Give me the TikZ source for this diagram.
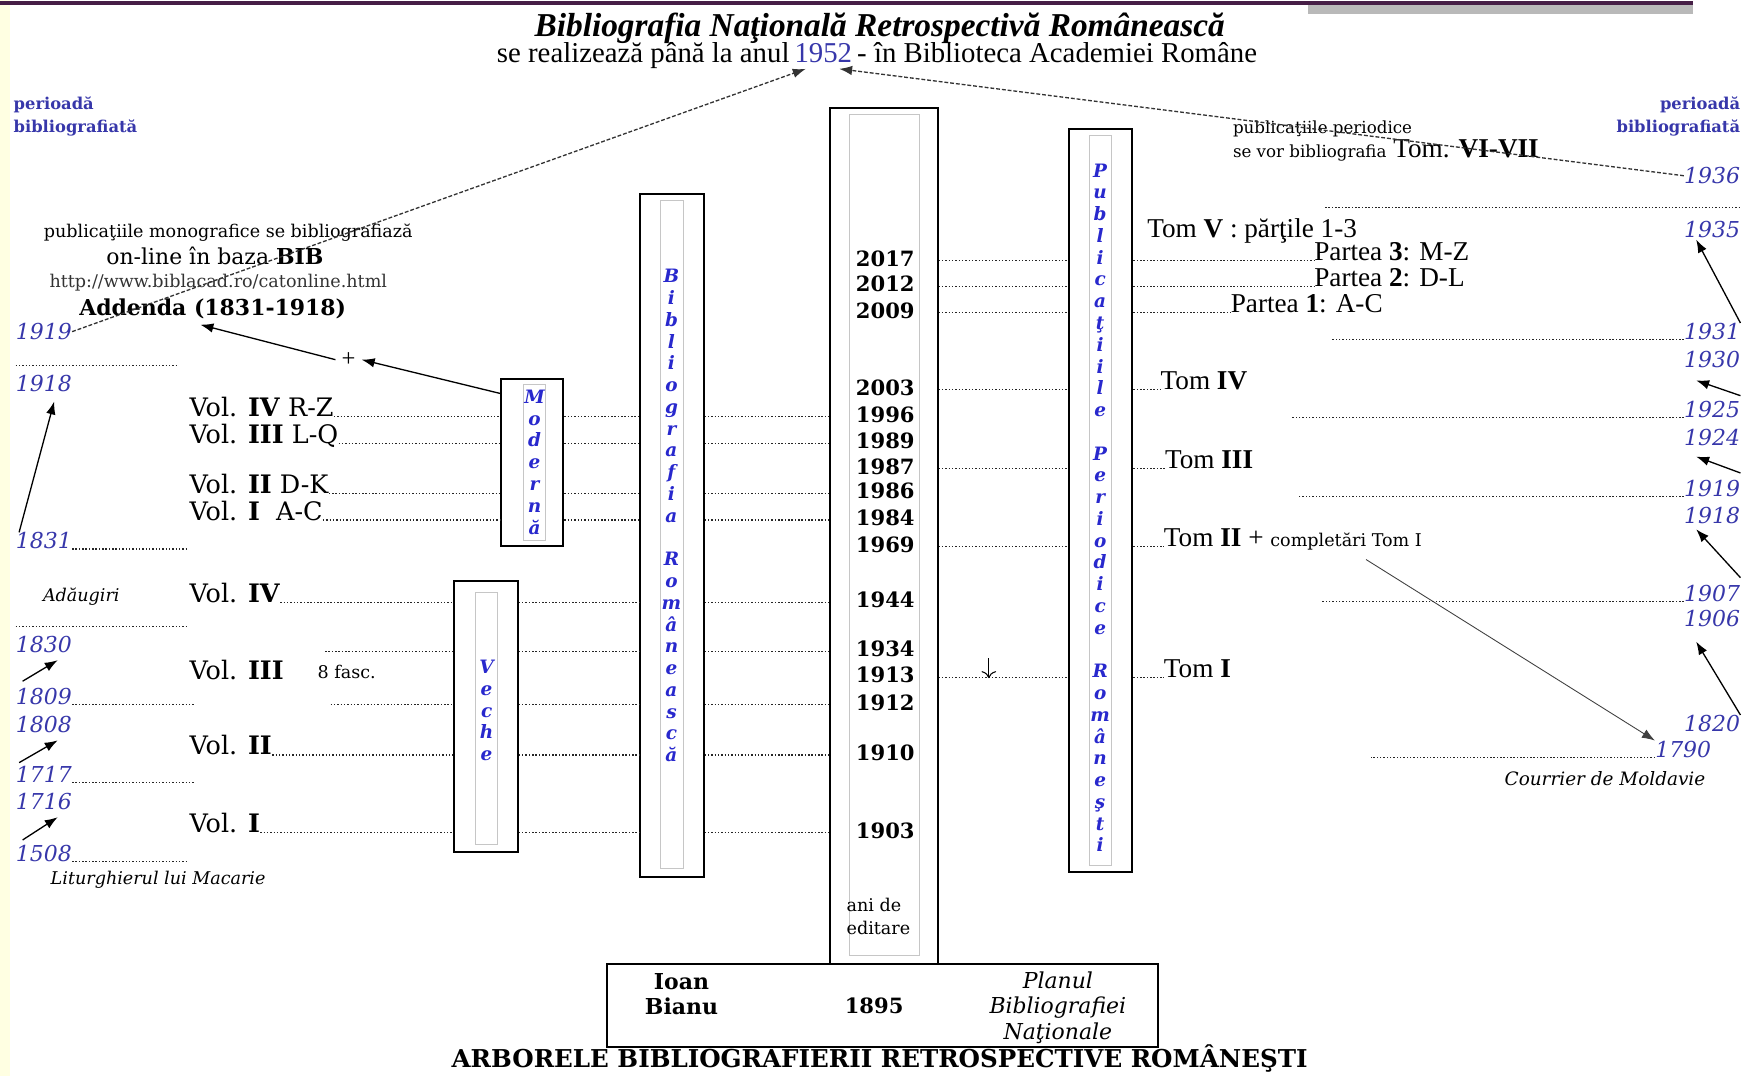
\documentclass[tikz,border=0pt]{standalone}
\usepackage{fontspec}
\setmainfont{Liberation Serif}
\newfontfamily\bookf{DejaVu Serif}
\usetikzlibrary{positioning, arrows.meta, fit}
\definecolor{yrblue}{RGB}{55,55,170}
\definecolor{letblue}{RGB}{40,40,205}
\definecolor{stripcol}{RGB}{255,255,226}
\definecolor{topbar}{RGB}{70,30,70}
\newcommand{\fsz}[2]{\fontsize{#1}{#2}\selectfont}
\tikzset{
  outerbox/.style = {draw, line width=1.1pt, inner sep=0pt},
  innerbox/.style = {draw=gray!45, line width=0.5pt, inner sep=0pt},
  vletters/.style = {font=\bookf\bfseries\itshape\fsz{10.5}{12.4}, text=letblue, align=center, inner sep=0pt},
  boxyear/.style  = {font=\bookf\bfseries\fsz{12}{14}, anchor=base, inner sep=0pt},
  sideyear/.style = {font=\bookf\itshape\fsz{12.5}{14}, text=yrblue, inner sep=0pt},
  lyear/.style    = {sideyear, anchor=base west},
  ryear/.style    = {sideyear, anchor=base east},
  vol/.style      = {font=\bookf\fsz{14.5}{16}, anchor=base west, inner sep=0pt},
  tom/.style      = {font=\fsz{15.5}{18}, anchor=base west, inner sep=0pt},
  dotrule/.style  = {draw=black!85, line width=0.6pt, dash pattern=on 0.8pt off 1.1pt},
  dashlink/.style = {draw=black!80, line width=0.75pt, dash pattern=on 2.2pt off 1.1pt, -{Latex[length=2.6mm,width=1.9mm]}},
  arr/.style      = {line width=0.75pt, -{Latex[length=2.6mm,width=1.9mm]}},
}

\begin{document}
\begin{tikzpicture}[x=0.0223cm, y=-0.0223cm]
  \useasboundingbox (0,0) rectangle (1568,966);
  % slide decoration
  \fill[stripcol] (0,0) rectangle (9,966);
  \fill[gray!55] (1175,4) rectangle (1520,13);
  \draw[topbar, line width=2.2pt] (0,3) -- (1520,3);

  % title
  \node[font=\bfseries\itshape\fsz{19}{22}] (title) at (790,25) {Bibliografia Naţională Retrospectivă Românească};
  \node[font=\fsz{16.4}{18}, anchor=base west, inner xsep=0.125em] (sub1)  at (444,56) {se realizează până la anul};
  \node[font=\fsz{16.4}{18}, anchor=base west, inner xsep=0.125em, text=yrblue] (n1952) at (sub1.base east) {1952};
  \node[font=\fsz{16.4}{18}, anchor=base west, inner xsep=0.125em] (sub3)  at (n1952.base east) {- în Biblioteca Academiei Române};

  \node[font=\bookf\bfseries\fsz{9.3}{12.7}, text=yrblue, align=left,  anchor=north west, inner sep=0pt] (perl) at (12,87)   {perioadă\\bibliografiată};
  \node[font=\bookf\bfseries\fsz{9.3}{12.7}, text=yrblue, align=right, anchor=north east, inner sep=0pt] (perr) at (1563,87) {perioadă\\bibliografiată};

  % left notes
  \node[font=\bookf\fsz{10}{12}]                (monog)   at (205,209) {publicaţiile monografice se bibliografiază};
  \node[font=\bookf\fsz{12.5}{14}]              (online)  at (193,230) {on-line în baza \textbf{BIB}};
  \node[font=\bookf\fsz{10}{12}, text=black!80] (http)    at (196,254) {http://www.biblacad.ro/catonline.html};
  \node[font=\bookf\bfseries\fsz{12.5}{14}]     (addenda) at (191,277) {Addenda (1831-1918)};
  \node[font=\fsz{14}{16}]                      (plus)    at (313,323) {+};
  \node[font=\bookf\itshape\fsz{10}{12}]        (adaug)   at (73,536)  {Adăugiri};
  \node[font=\bookf\itshape\fsz{10}{12}, anchor=west] (litur) at (40,790) {Liturghierul lui Macarie};

  % left years
  \node[lyear] (y1919l) at (14,305) {1919};
  \node[lyear] (y1918l) at (14,352) {1918};
  \node[lyear] (y1831l) at (14,493) {1831};
  \node[lyear] (y1830l) at (14,586) {1830};
  \node[lyear] (y1809l) at (14,633) {1809};
  \node[lyear] (y1808l) at (14,658) {1808};
  \node[lyear] (y1717l) at (14,703) {1717};
  \node[lyear] (y1716l) at (14,727) {1716};
  \node[lyear] (y1508l) at (14,774) {1508};
  \coordinate (sepL1) at (14,328);
  \coordinate (sepL2) at (14,563);

  % volumes
  \node[vol] (v4rz) at (170,374) {Vol. \textbf{IV} R-Z};
  \node[vol] (v3lq) at (170,398) {Vol. \textbf{III} L-Q};
  \node[vol] (v2dk) at (170,443) {Vol. \textbf{II} D-K};
  \node[vol] (v1ac) at (170,467) {Vol. \textbf{I}\ \ A-C};
  \node[vol] (v4)   at (170,541) {Vol. \textbf{IV}};
  \node[vol] (v3)   at (170,610) {Vol. \textbf{III}};
  \node[font=\bookf\fsz{10}{12}, anchor=base west, inner sep=0pt] (fasc) at (285,609) {8 fasc.};
  \node[vol] (v2)   at (170,678) {Vol. \textbf{II}};
  \node[vol] (v1)   at (170,748) {Vol. \textbf{I}};
  \coordinate (c1934) at (292,585);
  \coordinate (c1912) at (297,633);

  % columns
  \node[outerbox, fit={(450,340) (506,490)}] (modbox) {};
  \node[innerbox, fit={(470,345) (490,485)}] (modin)  {};
  \node[vletters] (modtxt) at (480,415) {M\\o\\d\\e\\r\\n\\ă};

  \node[outerbox, fit={(408,522) (465,765)}] (vecbox) {};
  \node[innerbox, fit={(427,532) (447,758)}] (vecin)  {};
  \node[vletters] (vectxt) at (437,638) {V\\e\\c\\h\\e};

  \node[outerbox, fit={(575,174) (632,788)}] (bibbox) {};
  \node[innerbox, fit={(593,180) (614,780)}] (bibin)  {};
  \node[vletters] (bibtxt) at (603,463) {B\\i\\b\\l\\i\\o\\g\\r\\a\\f\\i\\a\\[12.4pt]R\\o\\m\\â\\n\\e\\a\\s\\c\\ă};

  \node[outerbox, fit={(745,97) (842,866)}]  (yrbox)  {};
  \node[innerbox, fit={(763,103) (826,858)}] (yrin)   {};

  \node[outerbox, fit={(960,116) (1017,783)}] (perbox) {};
  \node[innerbox, fit={(978,122) (998,777)}]  (perin)  {};
  \node[vletters] (pertxt) at (988,456) {P\\u\\b\\l\\i\\c\\a\\ţ\\i\\i\\l\\e\\[12.4pt]P\\e\\r\\i\\o\\d\\i\\c\\e\\[12.4pt]R\\o\\m\\â\\n\\e\\ş\\t\\i};

  % years of publication
  \node[boxyear] (y2017) at (795,239) {2017};
  \node[boxyear] (y2012) at (795,262) {2012};
  \node[boxyear] (y2009) at (795,286) {2009};
  \node[boxyear] (y2003) at (795,355) {2003};
  \node[boxyear] (y1996) at (795,379) {1996};
  \node[boxyear] (y1989) at (795,403) {1989};
  \node[boxyear] (y1987) at (795,426) {1987};
  \node[boxyear] (y1986) at (795,448) {1986};
  \node[boxyear] (y1984) at (795,472) {1984};
  \node[boxyear] (y1969) at (795,496) {1969};
  \node[boxyear] (y1944) at (795,546) {1944};
  \node[boxyear] (y1934) at (795,590) {1934};
  \node[boxyear] (y1913) at (795,613) {1913};
  \node[boxyear] (y1912) at (795,638) {1912};
  \node[boxyear] (y1910) at (795,683) {1910};
  \node[boxyear] (y1903) at (795,753) {1903};
  \node[font=\bookf\fsz{10}{13.3}, align=left, anchor=north west, inner sep=0pt] (anied) at (760,806) {ani de\\editare};
  \coordinate (tick) at (888,591);

  % periodicals
  \node[font=\bookf\fsz{9.5}{12}, anchor=base west, inner sep=0pt] (pubper) at (1107,120) {publicaţiile periodice};
  \node[font=\fsz{15.5}{18}, anchor=base west, inner sep=0pt] (severb) at (1107,141) {{\bookf\fsz{9.5}{12}se vor bibliografia} Tom. \textbf{VI-VII}};
  \node[tom] (tomv) at (1030,213) {Tom \textbf{V} : părţile 1-3};
  \node[tom] (p3)   at (1180,234) {Partea \textbf{3}: M-Z};
  \node[tom] (p2)   at (1180,257) {Partea \textbf{2}: D-L};
  \node[tom] (p1)   at (1105,281) {Partea \textbf{1}: A-C};
  \node[tom] (tom4) at (1042,350) {Tom \textbf{IV}};
  \node[tom] (tom3) at (1046,421) {Tom \textbf{III}};
  \node[tom] (tom2) at (1045,491) {Tom \textbf{II} + {\bookf\fsz{10}{12}completări Tom I}};
  \node[tom] (tom1) at (1045,608) {Tom \textbf{I}};

  % right years
  \node[ryear] (y1936r) at (1563,165) {1936};
  \node[ryear] (y1935r) at (1563,213) {1935};
  \node[ryear] (y1931r) at (1563,305) {1931};
  \node[ryear] (y1930r) at (1563,330) {1930};
  \node[ryear] (y1925r) at (1563,375) {1925};
  \node[ryear] (y1924r) at (1563,400) {1924};
  \node[ryear] (y1919r) at (1563,446) {1919};
  \node[ryear] (y1918r) at (1563,470) {1918};
  \node[ryear] (y1907r) at (1563,540) {1907};
  \node[ryear] (y1906r) at (1563,563) {1906};
  \node[ryear] (y1820r) at (1563,657) {1820};
  \node[ryear] (y1790r) at (1537,680) {1790};
  \node[font=\bookf\itshape\fsz{10.5}{12}, anchor=east] (courr) at (1537,699) {Courrier de Moldavie};
  \coordinate (sepR1) at (1190,186);

  % base
  \node[outerbox, fit={(545,866) (1040,940)}] (botbox) {};
  \node[font=\bookf\bfseries\fsz{12.5}{14}, align=center] (bianu) at (612,893) {Ioan\\Bianu};
  \node[font=\bookf\bfseries\fsz{12}{14}] (y1895) at (785,903) {1895};
  \node[font=\bookf\itshape\fsz{12.5}{14.3}, align=center] (planul) at (950,905) {Planul\\Bibliografiei\\Naţionale};
  \node[font=\bookf\bfseries\fsz{14}{16}] (arbore) at (790,951) {ARBORELE BIBLIOGRAFIERII RETROSPECTIVE ROMÂNEŞTI};

  % dotted rows, left side
  \draw[dotrule] (sepL1) -- ++(146,0);
  \draw[dotrule] (y1831l.base east) -- ++(103,0);
  \draw[dotrule] (sepL2) -- ++(154,0);
  \draw[dotrule] (y1809l.base east) -- ++(110,0);
  \draw[dotrule] (y1717l.base east) -- ++(110,0);
  \draw[dotrule] (y1508l.base east) -- ++(103,0);

  % dotted rows, Moderna
  \draw[dotrule] (v4rz.base east) -- (modbox.west |- v4rz.base);
  \draw[dotrule] (v3lq.base east) -- (modbox.west |- v3lq.base);
  \draw[dotrule] (v2dk.base east) -- (modbox.west |- v2dk.base);
  \draw[dotrule] (v1ac.base east) -- (modbox.west |- v1ac.base);
  \draw[dotrule] (modbox.east |- v4rz.base) -- (bibbox.west |- v4rz.base);
  \draw[dotrule] (modbox.east |- v3lq.base) -- (bibbox.west |- v3lq.base);
  \draw[dotrule] (modbox.east |- v2dk.base) -- (bibbox.west |- v2dk.base);
  \draw[dotrule] (modbox.east |- v1ac.base) -- (bibbox.west |- v1ac.base);
  \draw[dotrule] (bibbox.east |- v4rz.base) -- (yrbox.west |- v4rz.base);
  \draw[dotrule] (bibbox.east |- v3lq.base) -- (yrbox.west |- v3lq.base);
  \draw[dotrule] (bibbox.east |- v2dk.base) -- (yrbox.west |- v2dk.base);
  \draw[dotrule] (bibbox.east |- v1ac.base) -- (yrbox.west |- v1ac.base);

  % dotted rows, Veche
  \draw[dotrule] (v4.base east) -- (vecbox.west |- v4.base);
  \draw[dotrule] (c1934)        -- (vecbox.west |- c1934);
  \draw[dotrule] (c1912)        -- (vecbox.west |- c1912);
  \draw[dotrule] (v2.base east) -- (vecbox.west |- v2.base);
  \draw[dotrule] (v1.base east) -- (vecbox.west |- v1.base);
  \draw[dotrule] (vecbox.east |- v4.base) -- (bibbox.west |- v4.base);
  \draw[dotrule] (vecbox.east |- c1934)   -- (bibbox.west |- c1934);
  \draw[dotrule] (vecbox.east |- c1912)   -- (bibbox.west |- c1912);
  \draw[dotrule] (vecbox.east |- v2.base) -- (bibbox.west |- v2.base);
  \draw[dotrule] (vecbox.east |- v1.base) -- (bibbox.west |- v1.base);
  \draw[dotrule] (bibbox.east |- v4.base) -- (yrbox.west |- v4.base);
  \draw[dotrule] (bibbox.east |- c1934)   -- (yrbox.west |- c1934);
  \draw[dotrule] (bibbox.east |- c1912)   -- (yrbox.west |- c1912);
  \draw[dotrule] (bibbox.east |- v2.base) -- (yrbox.west |- v2.base);
  \draw[dotrule] (bibbox.east |- v1.base) -- (yrbox.west |- v1.base);

  % dotted rows, periodicals
  \draw[dotrule] (yrbox.east |- p3.base)   -- (perbox.west |- p3.base);
  \draw[dotrule] (yrbox.east |- p2.base)   -- (perbox.west |- p2.base);
  \draw[dotrule] (yrbox.east |- p1.base)   -- (perbox.west |- p1.base);
  \draw[dotrule] (yrbox.east |- tom4.base) -- (perbox.west |- tom4.base);
  \draw[dotrule] (yrbox.east |- tom3.base) -- (perbox.west |- tom3.base);
  \draw[dotrule] (yrbox.east |- tom2.base) -- (perbox.west |- tom2.base);
  \draw[dotrule] (yrbox.east |- tom1.base) -- (perbox.west |- tom1.base);
  \draw[dotrule] (perbox.east |- p3.base)   -- (p3.base west);
  \draw[dotrule] (perbox.east |- p2.base)   -- (p2.base west);
  \draw[dotrule] (perbox.east |- p1.base)   -- (p1.base west);
  \draw[dotrule] (perbox.east |- tom4.base) -- (tom4.base west);
  \draw[dotrule] (perbox.east |- tom3.base) -- (tom3.base west);
  \draw[dotrule] (perbox.east |- tom2.base) -- (tom2.base west);
  \draw[dotrule] (perbox.east |- tom1.base) -- (tom1.base west);
  \draw[line width=0.6pt, -{To[length=1.4mm]}] (tick) -- ++(0,18);

  % dotted rows, right side
  \draw[dotrule] (sepR1) -- ++(373,0);
  \draw[dotrule] (y1931r.base west) -- ++(-317,0);
  \draw[dotrule] (y1925r.base west) -- ++(-352,0);
  \draw[dotrule] (y1919r.base west) -- ++(-347,0);
  \draw[dotrule] (y1907r.base west) -- ++(-325,0);
  \draw[dotrule] (y1790r.base west) -- ++(-255,0);

  % arrows
  \draw[arr] ([xshift=2pt]y1831l.north west) -- ([xshift=22pt,yshift=-5pt]y1918l.south west);
  \draw[arr] ([xshift=4pt,yshift=4pt]y1809l.north west) -- ([xshift=24pt,yshift=-4pt]y1830l.south west);
  \draw[arr] ([xshift=2pt,yshift=2pt]y1717l.north west) -- ([xshift=24pt,yshift=-4pt]y1808l.south west);
  \draw[arr] ([xshift=4pt,yshift=3pt]y1508l.north west) -- ([xshift=24pt,yshift=-4pt]y1716l.south west);
  \draw[arr] (y1931r.north east) -- ([xshift=7pt,yshift=-1pt]y1935r.south west);
  \draw[arr] ([yshift=3pt]y1925r.north east) -- ([xshift=7pt,yshift=-7pt]y1930r.south west);
  \draw[arr] ([yshift=4pt]y1919r.north east) -- ([xshift=7pt,yshift=-6pt]y1924r.south west);
  \draw[arr] ([yshift=4pt]y1907r.north east) -- ([xshift=7pt,yshift=-3pt]y1918r.south west);
  \draw[arr] (y1820r.north east) -- ([xshift=7pt,yshift=-8pt]y1906r.south west);
  \draw[arr] ([yshift=-9pt]modbox.north west) -- (plus.east);
  \draw[arr] (plus.west) -- ([xshift=-7pt]addenda.south);
  \draw[arr, line width=0.5pt, draw=black!75] ([xshift=-32pt,yshift=-5pt]tom2.south east) -- (y1790r.north west);
  \draw[dashlink] (y1919l.east) -- ([xshift=-10pt]n1952.south);
  \draw[dashlink] (y1936r.west) -- ([xshift=9pt]n1952.south);
\end{tikzpicture}
\end{document}
